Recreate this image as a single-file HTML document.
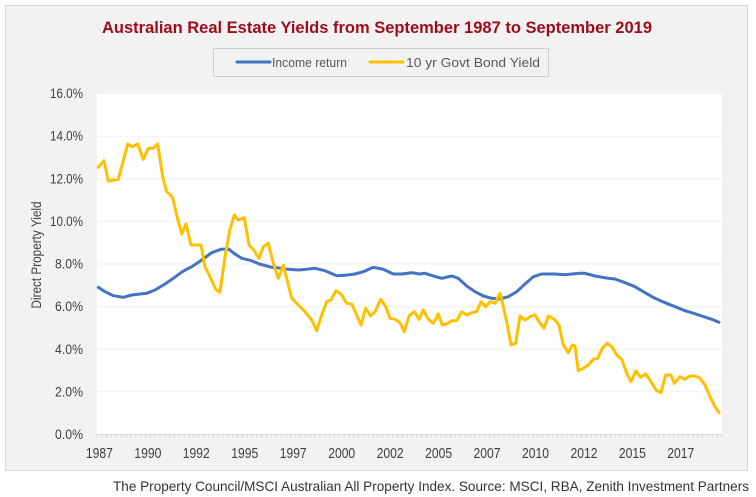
<!DOCTYPE html>
<html>
<head>
<meta charset="utf-8">
<style>
html,body{margin:0;padding:0;background:#ffffff;}
svg{display:block;}
text{font-family:"Liberation Sans",Arial,sans-serif;}
</style>
</head>
<body>
<svg width="756" height="497" viewBox="0 0 756 497" xmlns="http://www.w3.org/2000/svg">
  <rect x="0" y="0" width="756" height="497" fill="#ffffff"/>
  <!-- outer chart area -->
  <rect x="5.5" y="5.5" width="742" height="465" fill="#f2f2f2" stroke="#d9d9d9" stroke-width="1"/>
  <!-- title -->
  <text x="377" y="33" text-anchor="middle" font-size="16.5" font-weight="bold" fill="#9e0b1b" textLength="550" lengthAdjust="spacingAndGlyphs">Australian Real Estate Yields from September 1987 to September 2019</text>
  <!-- legend -->
  <rect x="213.5" y="48.5" width="335" height="28" fill="#f2f2f2" stroke="#cfcfcf" stroke-width="1"/>
  <line x1="237" y1="62" x2="270" y2="62" stroke="#4472c4" stroke-width="3" stroke-linecap="round"/>
  <text x="272" y="67" font-size="13" fill="#595959" textLength="75" lengthAdjust="spacingAndGlyphs">Income return</text>
  <line x1="370" y1="62" x2="403" y2="62" stroke="#ffc000" stroke-width="3" stroke-linecap="round"/>
  <text x="406" y="67" font-size="13" fill="#595959" textLength="134" lengthAdjust="spacingAndGlyphs">10 yr Govt Bond Yield</text>
  <!-- plot area -->
  <rect x="97" y="93" width="625" height="342" fill="#ffffff"/>
  <!-- gridlines -->
  <g stroke="#f0f0f0" stroke-width="1">
    <line x1="97" y1="391.9" x2="722" y2="391.9"/>
    <line x1="97" y1="349.25" x2="722" y2="349.25"/>
    <line x1="97" y1="306.6" x2="722" y2="306.6"/>
    <line x1="97" y1="264" x2="722" y2="264"/>
    <line x1="97" y1="221.4" x2="722" y2="221.4"/>
    <line x1="97" y1="178.75" x2="722" y2="178.75"/>
    <line x1="97" y1="136.1" x2="722" y2="136.1"/>
    <line x1="97" y1="93.5" x2="722" y2="93.5"/>
  </g>
  <!-- y labels -->
  <g font-size="14" fill="#404040" text-anchor="end">
    <text x="83" y="439" textLength="28" lengthAdjust="spacingAndGlyphs">0.0%</text>
    <text x="83" y="396.4" textLength="28" lengthAdjust="spacingAndGlyphs">2.0%</text>
    <text x="83" y="353.75" textLength="28" lengthAdjust="spacingAndGlyphs">4.0%</text>
    <text x="83" y="311.1" textLength="28" lengthAdjust="spacingAndGlyphs">6.0%</text>
    <text x="83" y="268.5" textLength="28" lengthAdjust="spacingAndGlyphs">8.0%</text>
    <text x="83" y="225.9" textLength="33" lengthAdjust="spacingAndGlyphs">10.0%</text>
    <text x="83" y="183.25" textLength="33" lengthAdjust="spacingAndGlyphs">12.0%</text>
    <text x="83" y="140.6" textLength="33" lengthAdjust="spacingAndGlyphs">14.0%</text>
    <text x="83" y="98" textLength="33" lengthAdjust="spacingAndGlyphs">16.0%</text>
  </g>
  <!-- y axis title -->
  <text transform="translate(41,255) rotate(-90)" text-anchor="middle" font-size="14" fill="#404040" textLength="107" lengthAdjust="spacingAndGlyphs">Direct Property Yield</text>
  <!-- x axis -->
  <line x1="97" y1="434.5" x2="722" y2="434.5" stroke="#d9d9d9" stroke-width="1"/>
  <g id="ticks" stroke="#d9d9d9" stroke-width="1"></g>
  <g font-size="15" fill="#404040" text-anchor="middle">
    <text x="99.4" y="458" textLength="27" lengthAdjust="spacingAndGlyphs">1987</text>
    <text x="147.9" y="458" textLength="27" lengthAdjust="spacingAndGlyphs">1990</text>
    <text x="196.3" y="458" textLength="27" lengthAdjust="spacingAndGlyphs">1992</text>
    <text x="244.8" y="458" textLength="27" lengthAdjust="spacingAndGlyphs">1995</text>
    <text x="293.2" y="458" textLength="27" lengthAdjust="spacingAndGlyphs">1997</text>
    <text x="341.7" y="458" textLength="27" lengthAdjust="spacingAndGlyphs">2000</text>
    <text x="390.1" y="458" textLength="27" lengthAdjust="spacingAndGlyphs">2002</text>
    <text x="438.6" y="458" textLength="27" lengthAdjust="spacingAndGlyphs">2005</text>
    <text x="487" y="458" textLength="27" lengthAdjust="spacingAndGlyphs">2007</text>
    <text x="535.5" y="458" textLength="27" lengthAdjust="spacingAndGlyphs">2010</text>
    <text x="584" y="458" textLength="27" lengthAdjust="spacingAndGlyphs">2012</text>
    <text x="632.4" y="458" textLength="27" lengthAdjust="spacingAndGlyphs">2015</text>
    <text x="680.8" y="458" textLength="27" lengthAdjust="spacingAndGlyphs">2017</text>
  </g>
  <!-- ticks (static) -->
  <path stroke="#d9d9d9" stroke-width="1" fill="none" d="M97,434.5v3.5 M101.8,434.5v3.5 M106.7,434.5v3.5 M111.5,434.5v3.5 M116.4,434.5v3.5 M121.2,434.5v3.5 M126.1,434.5v3.5 M130.9,434.5v3.5 M135.8,434.5v3.5 M140.6,434.5v3.5 M145.5,434.5v3.5 M150.3,434.5v3.5 M155.1,434.5v3.5 M160,434.5v3.5 M164.8,434.5v3.5 M169.7,434.5v3.5 M174.5,434.5v3.5 M179.4,434.5v3.5 M184.2,434.5v3.5 M189.1,434.5v3.5 M193.9,434.5v3.5 M198.7,434.5v3.5 M203.6,434.5v3.5 M208.4,434.5v3.5 M213.3,434.5v3.5 M218.1,434.5v3.5 M223,434.5v3.5 M227.8,434.5v3.5 M232.7,434.5v3.5 M237.5,434.5v3.5 M242.4,434.5v3.5 M247.2,434.5v3.5 M252,434.5v3.5 M256.9,434.5v3.5 M261.7,434.5v3.5 M266.6,434.5v3.5 M271.4,434.5v3.5 M276.3,434.5v3.5 M281.1,434.5v3.5 M286,434.5v3.5 M290.8,434.5v3.5 M295.6,434.5v3.5 M300.5,434.5v3.5 M305.3,434.5v3.5 M310.2,434.5v3.5 M315,434.5v3.5 M319.9,434.5v3.5 M324.7,434.5v3.5 M329.6,434.5v3.5 M334.4,434.5v3.5 M339.3,434.5v3.5 M344.1,434.5v3.5 M348.9,434.5v3.5 M353.8,434.5v3.5 M358.6,434.5v3.5 M363.5,434.5v3.5 M368.3,434.5v3.5 M373.2,434.5v3.5 M378,434.5v3.5 M382.9,434.5v3.5 M387.7,434.5v3.5 M392.5,434.5v3.5 M397.4,434.5v3.5 M402.2,434.5v3.5 M407.1,434.5v3.5 M411.9,434.5v3.5 M416.8,434.5v3.5 M421.6,434.5v3.5 M426.5,434.5v3.5 M431.3,434.5v3.5 M436.2,434.5v3.5 M441,434.5v3.5 M445.8,434.5v3.5 M450.7,434.5v3.5 M455.5,434.5v3.5 M460.4,434.5v3.5 M465.2,434.5v3.5 M470.1,434.5v3.5 M474.9,434.5v3.5 M479.8,434.5v3.5 M484.6,434.5v3.5 M489.4,434.5v3.5 M494.3,434.5v3.5 M499.1,434.5v3.5 M504,434.5v3.5 M508.8,434.5v3.5 M513.7,434.5v3.5 M518.5,434.5v3.5 M523.4,434.5v3.5 M528.2,434.5v3.5 M533.1,434.5v3.5 M537.9,434.5v3.5 M542.7,434.5v3.5 M547.6,434.5v3.5 M552.4,434.5v3.5 M557.3,434.5v3.5 M562.1,434.5v3.5 M567,434.5v3.5 M571.8,434.5v3.5 M576.7,434.5v3.5 M581.5,434.5v3.5 M586.3,434.5v3.5 M591.2,434.5v3.5 M596,434.5v3.5 M600.9,434.5v3.5 M605.7,434.5v3.5 M610.6,434.5v3.5 M615.4,434.5v3.5 M620.3,434.5v3.5 M625.1,434.5v3.5 M630,434.5v3.5 M634.8,434.5v3.5 M639.6,434.5v3.5 M644.5,434.5v3.5 M649.3,434.5v3.5 M654.2,434.5v3.5 M659,434.5v3.5 M663.9,434.5v3.5 M668.7,434.5v3.5 M673.6,434.5v3.5 M678.4,434.5v3.5 M683.2,434.5v3.5 M688.1,434.5v3.5 M692.9,434.5v3.5 M697.8,434.5v3.5 M702.6,434.5v3.5 M707.5,434.5v3.5 M712.3,434.5v3.5 M717.2,434.5v3.5 M722,434.5v3.5"/>
  <!-- Income return (blue) -->
  <polyline fill="none" stroke="#4472c4" stroke-width="3" stroke-linejoin="round" stroke-linecap="round"
    points="98.3,287.3 105,291.7 113.3,295.7 123.3,297.3 131.7,295 146.7,293.3 155,290 165,284 173.3,278.3 182.3,271.7 191.7,266.7 201.7,260 211.7,252.7 221,249.3 228.3,249 235,254 241.7,258.3 251.7,260.7 259.3,264 263.3,265 271.7,267.3 281.7,268.3 288.3,269.3 298.3,270 306.7,269.3 315,268.3 325,270.7 336.7,275.7 345,275.3 355,274 363.3,271.7 373.3,267.3 383.3,269.3 393.3,274 401.7,274 411.7,272.7 419.3,274 425,273.3 433.3,276 441.7,278.3 451.7,276 458.3,278.3 466.7,286 475,291.7 483.3,296 491.7,298.3 500,299 508.3,296.7 516.7,291.7 525,284 533.3,276.7 541.7,274 555,274 565,274.7 579.3,273.3 585,273.3 595,276 608.3,278.3 615,279 625,282.7 635,286.7 645,292.7 655,298.3 665,302.7 675,306.7 685,310.7 691.7,312.7 701.7,316 711.7,319.3 719,322.3"/>
  <!-- 10 yr Govt Bond Yield (yellow) -->
  <polyline fill="none" stroke="#ffc000" stroke-width="3" stroke-linejoin="round" stroke-linecap="round"
    points="98.3,167.3 104,160.7 108.3,181 118.3,179.3 127.7,144 132.3,146.7 137.7,144 143.3,159.3 148.3,148.3 153.3,148.3 157.7,144 162.7,176.7 166.7,191.7 172.3,196.7 176.7,215 181.7,234 186,224 191,245 201,245 205,266.7 210,276.7 215.7,289.3 220,292.3 225,256.7 230,229.3 234.3,215 238.3,220 244.3,217.7 249,245 253.3,249.3 259,258.3 263.3,246.7 268.3,243.3 273.3,263.3 278.3,278.3 283.3,265 291.7,298.3 296.7,303.3 305,311.7 311.7,320 316.7,330.7 321.7,315 326.7,301.7 331,300 336,290.7 341,294 346.7,303.3 351.7,304 356.7,315 361,325 365.7,308.3 370.7,316 375,311.7 380.7,299.3 385.7,306.7 390,318.3 395,319.3 400,322.7 404.3,331.7 409,316 414.3,311.7 419,319.3 423.3,310 428.3,319.3 433.3,323.3 438.3,314 442.3,325 446.7,324 451.7,320.7 456.7,320.7 461.7,311.7 466.7,315 471.7,312.7 476.7,311.7 481,301.7 485.7,306.7 490,301.7 495,303.3 500,293.3 503.3,306.7 507.7,326.7 511,345 515.7,343.3 520,316 525,320 530,316.7 535,315 539,321.7 544,328.3 548.3,316 554.3,319.3 559,325 563.3,345 568.3,352.7 572.3,345 575,346 578.3,370.7 583.3,368.3 588.3,365 593.3,359.3 597.7,358.3 602.3,348.3 607.3,343.3 611.7,346.7 616.7,355 621.7,359.3 626.7,373.3 631,381.7 635.7,371 640.7,377.3 645.7,374 651,381.7 656,390 661,392.7 665.7,375 671,375 674.3,383.3 680,376.7 685,379.3 690,376 695,376 700,378.3 705,385 710,396.7 715,406.7 719,412.7"/>
  <!-- footer -->
  <text x="113" y="491" font-size="14" fill="#333333" font-family="'DejaVu Sans','Liberation Sans',sans-serif" textLength="636" lengthAdjust="spacingAndGlyphs">The Property Council/MSCI Australian All Property Index. Source: MSCI, RBA, Zenith Investment Partners</text>
</svg>
</body>
</html>
